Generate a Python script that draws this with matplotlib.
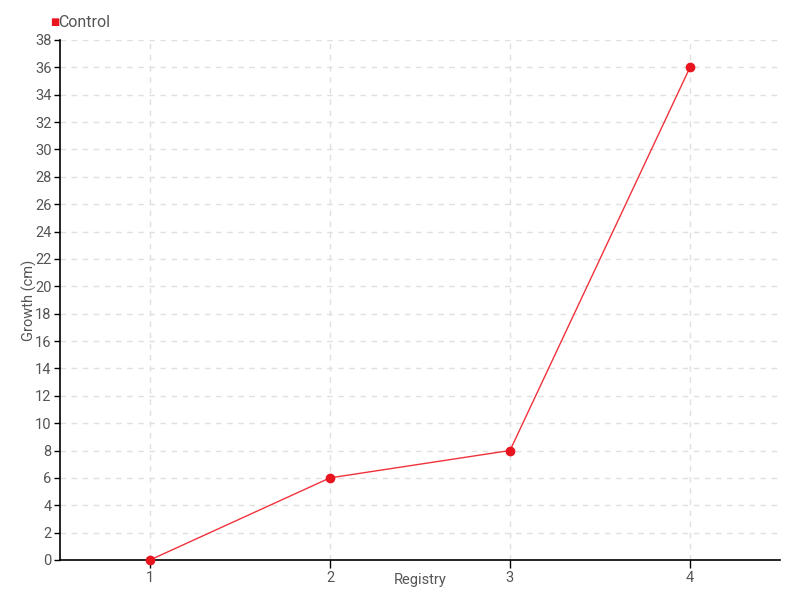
import matplotlib
matplotlib.use("Agg")
import matplotlib.pyplot as plt

registry = [1, 2, 3, 4]
growth = [0, 6, 8, 36]
series_name = "Control"

plt.rcParams['font.family'] = ['Roboto', 'DejaVu Sans']

fig = plt.figure(figsize=(8, 6), dpi=100)
ax = fig.add_axes([0.075, 0.0667, 0.9, 0.8667])

ax.plot(registry, growth, color='#f0323c', lw=1, marker='o', ms=6,
        markerfacecolor='#e8141e', markeredgecolor='#e8141e', label=series_name,
        clip_on=False, zorder=3)

ax.set_xlim(0.5, 4.5)
ax.set_ylim(0, 38)
ax.set_xticks(registry)
ax.set_yticks(range(0, 39, 2))
ax.grid(True, color='#e0e0e0', linestyle=(0, (4, 4)), lw=1)
ax.set_axisbelow(True)

for s in ['top', 'right']:
    ax.spines[s].set_visible(False)
for s in ['left', 'bottom']:
    ax.spines[s].set_linewidth(1.2)
ax.tick_params(axis='both', labelsize=10.5, labelcolor='#555555', length=4, width=1, pad=2)
ax.tick_params(axis='x', length=6)

ax.set_xlabel("Registry", fontsize=10.5, color='#555555')
ax.set_ylabel("Growth (cm)", fontsize=10.5, color='#555555')
ax.xaxis.set_label_coords(0.5, -0.038)
ax.yaxis.set_label_coords(-0.043, 0.5)
ax.xaxis.label.set_va('center')
ax.yaxis.label.set_va('center')

# legend with square marker top-left
fig.text(0.0625, 0.963, "\u25A0", color='#e8141e', fontsize=7, va='center', ha='left',
         family='DejaVu Sans')
fig.text(0.073, 0.963, series_name, color='#555555', fontsize=11.5, va='center', ha='left')

fig.savefig("out.png", dpi=100)
